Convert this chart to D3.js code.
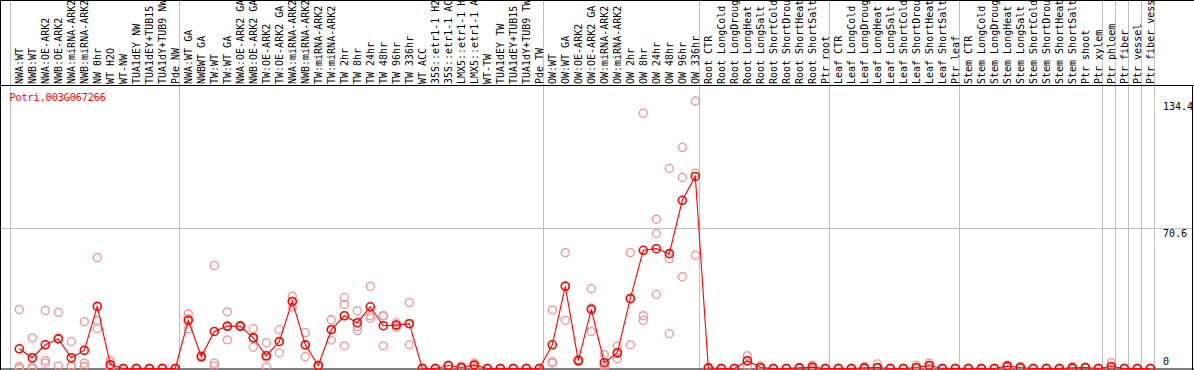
<!DOCTYPE html>
<html><head><meta charset="utf-8">
<script src="https://cdn.jsdelivr.net/npm/d3@7"></script>
<style>html,body{margin:0;padding:0;background:#fff;overflow:hidden}</style>
</head><body>
<svg id="c" width="1194" height="370"></svg>
<script>
const geneName = "Potri.003G067266";
const categories = [
 "NWA:WT","NWB:WT","NWA:OE-ARK2","NWB:OE-ARK2","NWA:miRNA-ARK2","NWB:miRNA-ARK2","NW 0hr","WT H2O","WT-NW","TUA1dEY NW","TUA1dEY+TUB15 NW","TUA1dY+TUB9 NW","Pde NW",
 "NWA:WT GA","NWBWT GA","TW:WT","TW:WT GA","NWA:OE-ARK2 GA","NWB:OE-ARK2 GA","TW:OE-ARK2","TW:OE-ARK2 GA","NWA:miRNA-ARK2 GA","NWB:miRNA-ARK2 GA","TW:miRNA-ARK2","TW:miRNA-ARK2 GA","TW 2hr","TW 8hr","TW 24hr","TW 48hr","TW 96hr","TW 336hr","WT ACC","35S::etr1-1 H2O","35S::etr1-1 ACC","LMX5::etr1-1 H2O","LMX5::etr1-1 ACC","WT-TW","TUA1dEY TW","TUA1dEY+TUB15 TW","TUA1dY+TUB9 TW","Pde TW",
 "OW:WT","OW:WT GA","OW:OE-ARK2","OW:OE-ARK2 GA","OW:miRNA-ARK2","OW:miRNA-ARK2 GA","OW 2hr","OW 8hr","OW 24hr","OW 48hr","OW 96hr","OW 336hr",
 "Root CTR","Root LongCold","Root LongDrought","Root LongHeat","Root LongSalt","Root ShortCold","Root ShortDrought","Root ShortHeat","Root ShortSalt","Ptr root",
 "Leaf CTR","Leaf LongCold","Leaf LongDrought","Leaf LongHeat","Leaf LongSalt","Leaf ShortCold","Leaf ShortDrought","Leaf ShortHeat","Leaf ShortSalt","Ptr leaf",
 "Stem CTR","Stem LongCold","Stem LongDrought","Stem LongHeat","Stem LongSalt","Stem ShortCold","Stem ShortDrought","Stem ShortHeat","Stem ShortSalt","Ptr shoot","Ptr xylem",
 "Ptr phloem","Ptr fiber","Ptr vessel","Ptr fiber vessel"
];
const groupSizes = [13,28,12,10,10,11,1,1,1,1];
const meanValues = [
 9.9,5.4,11.9,14.9,5.4,9.1,31.2,1.9,0,0,0,0,0,
 24.2,6.0,18.6,21.3,21.3,15.4,6.4,13.6,33.7,11.9,1.5,19.5,26.5,23.0,31.0,21.5,21.8,22.5,0,0,1.5,0.5,1.7,0,0,0,0,0,
 11.9,41.3,4.0,29.7,2.9,7.9,35.1,59.4,60.2,57.7,84.5,96.5,
 0.3,0,0,3.9,0.5,0,0,0.3,0.7,0,
 0,0,0.3,0.5,0,0,0.5,1.5,0,0,
 0,0,0,1.2,0.5,0,0,0,0.3,0.5,0,
 1.0,0,0,0
];
const replicateValues = [
 [29.7,1.0,0],[15.4,1.0,0],[29.2,4.0,2.7],[28.2,1.3,15.2],[13.6,1.5,1.1],[23.6,2.7,1.0],[55.7,24.2,20.0],[4.0,1.0,0.5],[0,0,0],[0,0,0],[0,0,0],[0,0,0],[0,0,0],
 [27.5,20.0,25.1],[6.0,6.5,5.5],[51.8,1.3,2.7],[28.5,14.4,21.0],[21.3,21.0,21.6],[20.0,10.7,15.5],[12.9,0.7,5.6],[19.5,7.9,13.4],[36.4,30.9,33.8],[18.0,5.9,11.8],[1.5,1.5,1.5],[24.5,14.3,19.7],[35.7,32.2,11.4],[29.0,19.1,21.0],[41.3,26.5,25.3],[26.5,11.4,26.6],[23.0,21.8,20.6],[33.1,11.9,22.5],[0,0,0],[0,0,0],[1.5,1.5,1.5],[1.3,0.2,0],[2.7,1.7,0.7],[0,0,0],[0,0,0],[0,0,0],[0,0,0],[0,0,0],
 [29.5,3.5,2.7],[58.2,24.2,41.5],[4.5,3.5,4.0],[40.1,18.6,30.4],[7.0,0,1.7],[11.2,4.9,7.6],[58.2,11.9,35.2],[128.3,26.5,24.2],[75.0,67.8,37.2],[100.5,55.2,17.5],[111.1,96.0,46.1],[134.4,56.9,98.2],
 [0.5,0.3,0],[0,0,0],[0,0,0],[6.4,1.4,3.9],[1.4,0,0],[0,0,0],[0,0,0],[0.5,0.3,0.1],[1.7,0.3,0.1],[0,0,0],
 [0,0,0],[0,0,0],[1.1,0,0],[2.3,0,0],[0,0,0],[0,0,0],[1.7,0,0],[2.7,1.5,0.3],[0,0,0],[0,0,0],
 [0,0,0],[0,0,0],[0,0,0],[1.7,1.2,0.6],[1.1,0.4,0],[0,0,0],[0,0,0],[0,0,0],[1.1,0,0],[0.5,0.5,0.5],[0,0,0],
 [3.0,0,0],[0,0,0],[0,0,0],[0,0,0]
];
const yTicks = [0, 70.6, 134.4];
const yMax = 134.4;

const svg = d3.select("#c");
const W = 1194, H = 370;
const headerBottom = 85.5;
const FONT = "'DejaVu Sans Mono', 'Liberation Mono', monospace";

const x = d3.scaleBand().domain(d3.range(categories.length)).range([10, 10 + 13*categories.length]).paddingInner(0).paddingOuter(0);
const px = i => x(i) + 9.3;
const y = d3.scaleLinear().domain([0, yMax]).range([368.5, 101]);

// group boundary lines
const bounds = [0];
groupSizes.forEach(s => bounds.push(bounds[bounds.length-1] + s));
svg.selectAll("line.grp").data(bounds).enter().append("line")
  .attr("x1", d => (d < categories.length ? x(d) : x(categories.length-1) + 13) + 0.5)
  .attr("x2", d => (d < categories.length ? x(d) : x(categories.length-1) + 13) + 0.5)
  .attr("y1", 0).attr("y2", H).attr("stroke", "#c0c0c0").attr("stroke-width", 1);

// horizontal grid at middle tick
svg.append("line").attr("x1", 0).attr("x2", W).attr("y1", Math.round(y(yTicks[1])) + 0.5).attr("y2", Math.round(y(yTicks[1])) + 0.5)
  .attr("stroke", "#c0c0c0").attr("stroke-width", 1);

// frame
svg.append("line").attr("x1", 0.5).attr("x2", 0.5).attr("y1", 0).attr("y2", H).attr("stroke", "#000");
svg.append("line").attr("x1", 0).attr("x2", W).attr("y1", 0.5).attr("y2", 0.5).attr("stroke", "#000");
svg.append("line").attr("x1", 0).attr("x2", W).attr("y1", headerBottom).attr("y2", headerBottom).attr("stroke", "#000");
svg.append("line").attr("x1", 0).attr("x2", W).attr("y1", 369).attr("y2", 369).attr("stroke", "#000");
svg.append("line").attr("x1", 1192.5).attr("x2", 1192.5).attr("y1", headerBottom).attr("y2", H).attr("stroke", "#000");

// header labels
svg.selectAll("text.cat").data(categories).enter().append("text")
  .attr("class", "cat")
  .attr("transform", (d, i) => `translate(${px(i) + 3.2},84) rotate(-90)`)
  .attr("font-family", FONT).attr("font-size", 10).attr("fill", "#000")
  .text(d => d.slice(0, 14));

// gene label
svg.append("text").attr("x", 9.5).attr("y", 101).attr("font-family", FONT).attr("font-size", 10)
  .attr("fill", "#ff0000").text(geneName);

// y tick labels
svg.selectAll("text.yt").data(yTicks).enter().append("text")
  .attr("x", 1163).attr("y", d => Math.min(y(d) + 9, 365))
  .attr("font-family", FONT).attr("font-size", 10).attr("fill", "#000")
  .text(d => String(d));

// replicates
const reps = [];
replicateValues.forEach((arr, i) => arr.forEach(v => reps.push({i, v})));
svg.selectAll("circle.rep").data(reps).enter().append("circle")
  .attr("cx", d => px(d.i)).attr("cy", d => y(d.v)).attr("r", 4)
  .attr("fill", "none").attr("stroke", "#f09494").attr("stroke-width", 1.3);

// mean line
svg.append("path").datum(meanValues)
  .attr("d", d3.line().x((d, i) => px(i)).y(d => y(d)))
  .attr("fill", "none").attr("stroke", "#ff0000").attr("stroke-width", 1.1);

// mean circles
svg.selectAll("circle.mean").data(meanValues).enter().append("circle")
  .attr("cx", (d, i) => px(i)).attr("cy", d => y(d)).attr("r", 4)
  .attr("fill", "none").attr("stroke", "#ff0000").attr("stroke-width", 1.6);
</script>
</body></html>
